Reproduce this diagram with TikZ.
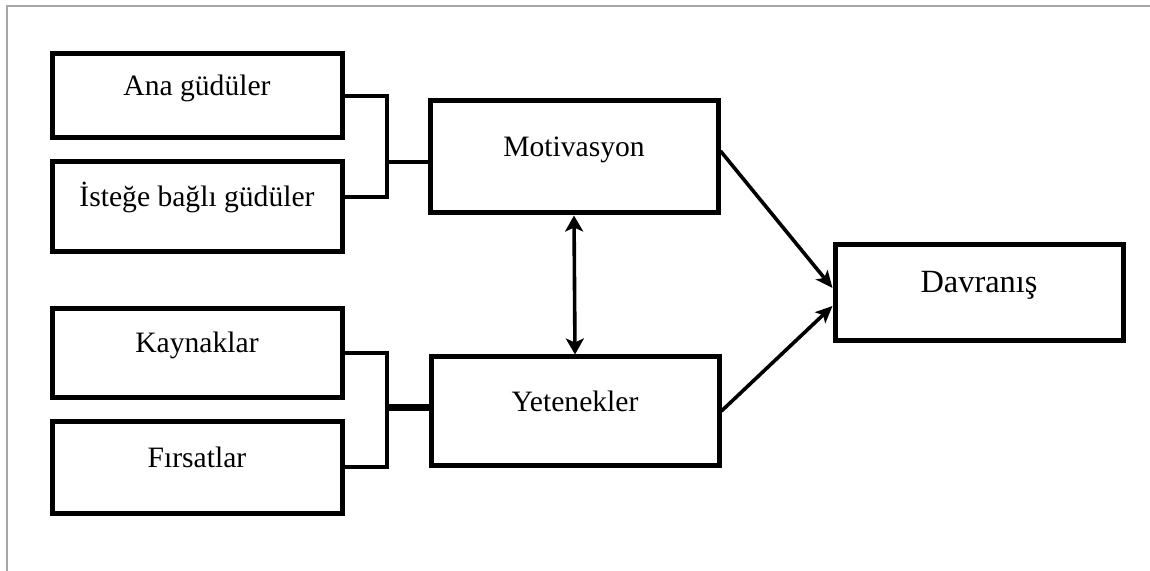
\documentclass[tikz,border=0pt]{standalone}
\usepackage{fontspec}
\setmainfont{Liberation Serif}
\usetikzlibrary{arrows.meta}
\definecolor{framegray}{HTML}{A6A6A6}
\tikzset{box/.style={draw, line width=2.5pt, align=center,
        font=\fontsize{14.8}{17}\selectfont,
        text height=10pt, text depth=10pt},
    link/.style={line width=1.8pt},
    arrow/.style={line width=1.8pt, -{Stealth[length=8.5pt,width=7.5pt,inset=2pt]}},
    }
\begin{document}
\begin{tikzpicture}[x=0.5pt,y=-0.5pt]
	\useasboundingbox (0,0) rectangle (1150,571);
	\draw[framegray, line width=1.2pt] (7,571) -- (7,6) -- (1150,6);
	% kutular
	\node[box, minimum width=145pt, minimum height=42pt] (ana) at (197,96) {Ana güdüler};
	\node[box, minimum width=145pt, minimum height=45pt] (istege) at (197,207) {İsteğe bağlı güdüler};
	\node[box, minimum width=145pt, minimum height=44pt] (kaynak) at (197,353) {Kaynaklar};
	\node[box, minimum width=145pt, minimum height=46pt] (firsat) at (197,467) {Fırsatlar};
	\node[box, minimum width=144pt, minimum height=56pt] (motiv) at (574,157) {Motivasyon};
	\node[box, minimum width=144pt, minimum height=54pt] (yetenek) at (575,411) {Yetenekler};
	\node[box, minimum width=144pt, minimum height=48pt,
		font=\fontsize{16.2}{19}\selectfont] (davr) at (979,293) {Davranış};
	% baglantilar
	\coordinate (jm) at (387,162);
	\coordinate (jy) at (387,407);
	\draw[link] (ana.east) -| (jm) |- ([yshift=5pt]istege.east);
	\draw[link] (jm) -- (jm -| motiv.west);
	\draw[link] (kaynak.east) -| (jy) |- (firsat.east);
	\draw[line width=3.5pt] (jy) -- (jy -| yetenek.west);
	\draw[arrow, {Stealth[length=8pt,width=9pt,inset=2pt]}-{Stealth[length=8pt,width=9pt,inset=2pt]}]
		(motiv.south) -- (yetenek.north);
	\draw[arrow] ([yshift=3pt]motiv.east) -- ([yshift=2.5pt]davr.west);
	\draw[arrow] (yetenek.east) -- ([yshift=-6.5pt]davr.west);
\end{tikzpicture}
\end{document}
